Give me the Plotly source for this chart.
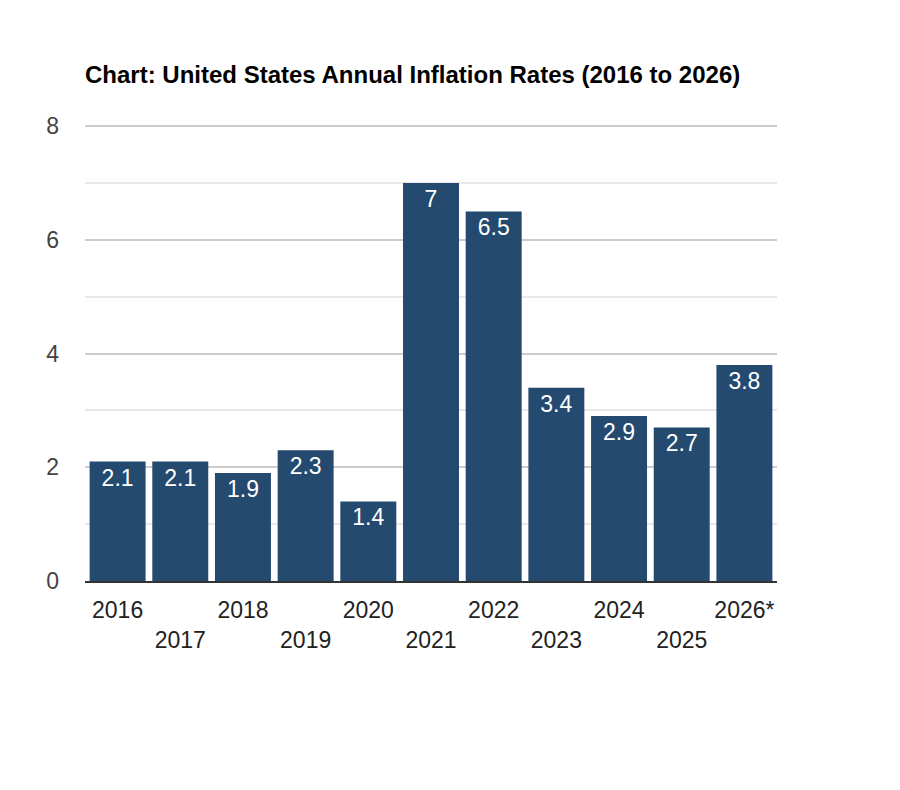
import plotly.graph_objects as go

years = ["2016", "2017", "2018", "2019", "2020", "2021", "2022", "2023", "2024", "2025", "2026*"]
rates = [2.1, 2.1, 1.9, 2.3, 1.4, 7, 6.5, 3.4, 2.9, 2.7, 3.8]

# every second label goes on a lower line, like the original
tick_text = [y if i % 2 == 0 else "<br>" + y for i, y in enumerate(years)]

fig = go.Figure(go.Bar(
    x=list(range(len(years))),
    y=rates,
    text=[str(r) for r in rates],
    textposition="inside",
    insidetextanchor="end",
    textangle=0,
    textfont=dict(color="white", size=23, family="Arial, Liberation Sans"),
    marker=dict(color="#254a6f", line=dict(width=0)),
    hoverinfo="skip",
))

# page has an 8px body margin, so the figure is a bit smaller than the window
fig.update_layout(
    width=884, height=774,
    margin=dict(l=77, r=115, t=117, b=201),
    paper_bgcolor="white", plot_bgcolor="white",
    bargap=0.107,
    showlegend=False,
    font=dict(family="Arial, Liberation Sans", size=23, color="#444"),
    title=dict(
        text="<b>Chart: United States Annual Inflation Rates (2016 to 2026)</b>",
        x=0, xanchor="left", xref="paper",
        y=1 - 67 / 774, yanchor="middle", yref="container",
        font=dict(size=24, color="black", family="Arial, Liberation Sans"),
    ),
)

fig.update_xaxes(
    tickmode="array",
    tickvals=list(range(len(years))),
    ticktext=tick_text,
    range=[-0.52, len(years) - 0.48],
    showgrid=False,
    showline=True, linecolor="#333", linewidth=2,
    ticks="", ticklabelstandoff=7,
    tickfont=dict(size=23, color="#222"),
)
fig.update_yaxes(
    range=[0, 8.02],
    tickvals=[0, 2, 4, 6, 8],
    showgrid=True, gridcolor="#cccccc", gridwidth=1.5,
    minor=dict(tickvals=[1, 3, 5, 7], showgrid=True, gridcolor="#e8e8e8", gridwidth=1.5),
    zeroline=False,
    showline=False,
    ticks="", ticklabelstandoff=25,
    tickfont=dict(size=23, color="#444"),
)

fig.write_html("out.html")
